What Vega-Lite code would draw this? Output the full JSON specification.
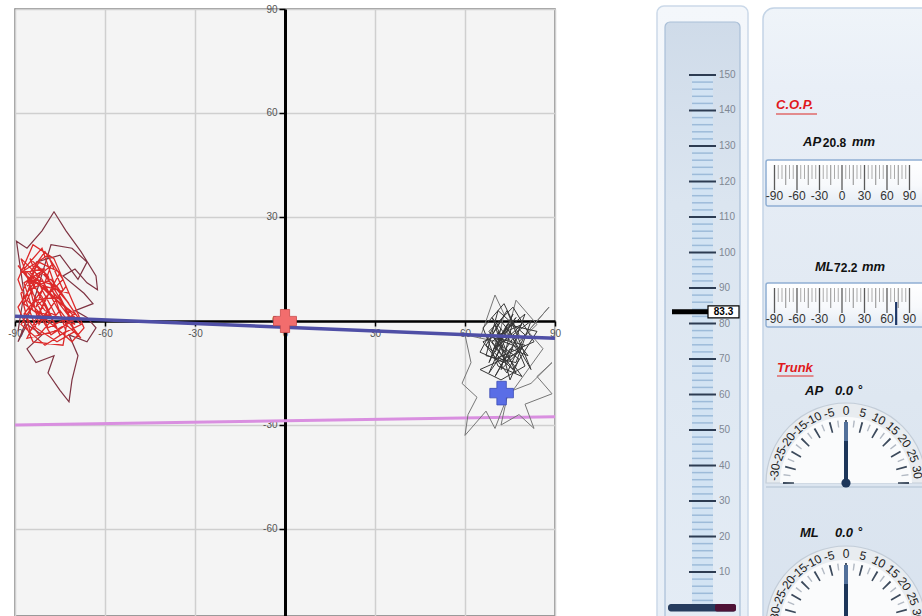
{
"$schema": "https://vega.github.io/schema/vega-lite/v6.json",
"autosize": {"type": "none"},
"padding": {"left": 15, "top": 9, "right": 907, "bottom": 0},
"background": "#ffffff",
"spacing": 15,
"bounds": "flush",
"config": {
  "view": {"stroke": null},
  "font": "Liberation Sans",
  "locale": {"number": {"decimal": ".", "thousands": ",", "grouping": [3], "currency": ["$", ""], "minus": "-"}}
},
"datasets": {
  "pink_line": [{"x": -90, "y": -30.0}, {"x": 90, "y": -27.6}],
  "blue_line": [{"x": -90, "y": 1.4}, {"x": 90, "y": -5.0}],
  "start_point": [{"x": 0, "y": 0}],
  "cop_point": [{"x": 72.2, "y": -20.8}],
  "red_outer": [{"x":-89,"y":-3},{"x":-87,"y":8},{"x":-89.5,"y":23},{"x":-86,"y":21},{"x":-81,"y":26},{"x":-77,"y":31.5},{"x":-73,"y":26},{"x":-68,"y":20},{"x":-63,"y":13},{"x":-62.5,"y":9},{"x":-66,"y":11},{"x":-70,"y":15},{"x":-74,"y":13},{"x":-67,"y":8},{"x":-64,"y":5},{"x":-70,"y":3},{"x":-66,"y":1},{"x":-63,"y":-2},{"x":-66,"y":-6},{"x":-72,"y":-4},{"x":-69,"y":-10},{"x":-71,"y":-17},{"x":-72,"y":-23.3},{"x":-75,"y":-20},{"x":-79,"y":-15},{"x":-77,"y":-10},{"x":-83,"y":-12},{"x":-86,"y":-8},{"x":-81,"y":-4},{"x":-86,"y":-1},{"x":-89,"y":-6},{"x":-84,"y":5},{"x":-78,"y":22},{"x":-71,"y":21},{"x":-66,"y":17},{"x":-69,"y":12},{"x":-75,"y":19},{"x":-83,"y":17}],
  "red_inner": [{"x":-86,"y":10},{"x":-78,"y":16},{"x":-83,"y":4},{"x":-74,"y":12},{"x":-80,"y":20},{"x":-85,"y":14},{"x":-76,"y":6},{"x":-70,"y":2},{"x":-79,"y":-2},{"x":-84,"y":8},{"x":-88,"y":18},{"x":-81,"y":12},{"x":-73,"y":-1},{"x":-68,"y":-5},{"x":-75,"y":3},{"x":-82,"y":-4},{"x":-87,"y":2},{"x":-80,"y":10},{"x":-72,"y":8},{"x":-77,"y":18},{"x":-84,"y":22},{"x":-89,"y":12},{"x":-83,"y":-2},{"x":-76,"y":-6},{"x":-70,"y":-3},{"x":-74,"y":5},{"x":-81,"y":15},{"x":-86,"y":6},{"x":-79,"y":0},{"x":-71,"y":-6},{"x":-67,"y":-2},{"x":-73,"y":10},{"x":-78,"y":4},{"x":-85,"y":-3},{"x":-88,"y":8},{"x":-82,"y":17},{"x":-75,"y":14},{"x":-80,"y":6},{"x":-86,"y":-5},{"x":-77,"y":-3},{"x":-69,"y":1},{"x":-76,"y":10},{"x":-83,"y":12},{"x":-89,"y":4},{"x":-84,"y":-6},{"x":-74,"y":-7},{"x":-72,"y":3},{"x":-79,"y":8},{"x":-87,"y":15},{"x":-81,"y":21},{"x":-77,"y":11},{"x":-82,"y":2},{"x":-78,"y":-4},{"x":-71,"y":0},{"x":-75,"y":7},{"x":-83,"y":6},{"x":-88,"y":-1},{"x":-80,"y":-7},{"x":-73,"y":-3},{"x":-79,"y":13},{"x":-85,"y":18},{"x":-81,"y":9},{"x":-76,"y":1},{"x":-84,"y":3},{"x":-87,"y":11},{"x":-80,"y":15},{"x":-88,"y":14},{"x":-79,"y":19},{"x":-74,"y":9},{"x":-82,"y":-1},{"x":-86,"y":13},{"x":-77,"y":7},{"x":-70,"y":-1},{"x":-80,"y":3},{"x":-85,"y":9},{"x":-78,"y":12},{"x":-72,"y":5},{"x":-83,"y":16},{"x":-87,"y":5},{"x":-76,"y":-2},{"x":-81,"y":7},{"x":-89,"y":16},{"x":-84,"y":11},{"x":-75,"y":-4},{"x":-68,"y":-1},{"x":-78,"y":9}],
  "black_dark": [{"x":72,"y":-2},{"x":68,"y":-12},{"x":76,"y":2},{"x":70,"y":-8},{"x":79,"y":-1},{"x":66,"y":-6},{"x":74,"y":-15},{"x":80,"y":-4},{"x":71,"y":3},{"x":67,"y":-10},{"x":77,"y":-12},{"x":82,"y":0},{"x":73,"y":-6},{"x":69,"y":1},{"x":78,"y":-9},{"x":65,"y":-14},{"x":72,"y":-17},{"x":80,"y":-13},{"x":75,"y":-3},{"x":70,"y":-11},{"x":83,"y":-6},{"x":76,"y":4},{"x":68,"y":-3},{"x":74,"y":-10},{"x":79,"y":-16},{"x":71,"y":-13},{"x":66,"y":-2},{"x":73,"y":5},{"x":78,"y":-4},{"x":70,"y":-16},{"x":75,"y":-8},{"x":81,"y":-10},{"x":72,"y":0},{"x":67,"y":-7},{"x":76,"y":-14},{"x":84,"y":-3},{"x":74,"y":-1},{"x":69,"y":-9},{"x":77,"y":1},{"x":71,"y":-5},{"x":80,"y":-7},{"x":73,"y":-12},{"x":65,"y":-9},{"x":70,"y":-1},{"x":75,"y":-17},{"x":78,"y":-11},{"x":72,"y":-7},{"x":68,"y":-15},{"x":76,"y":-5},{"x":82,"y":-14},{"x":74,"y":3},{"x":69,"y":-4},{"x":73,"y":-9},{"x":71,"y":-3},{"x":77,"y":-15},{"x":69,"y":-6},{"x":80,"y":2},{"x":74,"y":-12},{"x":67,"y":-4},{"x":79,"y":-8},{"x":72,"y":-14},{"x":76,"y":0},{"x":70,"y":-9}],
  "black_gray": [{"x":65,"y":-5},{"x":70,"y":7.5},{"x":73,"y":2},{"x":71,"y":-6},{"x":60,"y":-4},{"x":62,"y":-12},{"x":59,"y":-18},{"x":64,"y":-22},{"x":61,"y":-27},{"x":60,"y":-33},{"x":67,"y":-26},{"x":70,"y":-31},{"x":74,"y":-22},{"x":72,"y":-30},{"x":78,"y":-27},{"x":83,"y":-31},{"x":80,"y":-24},{"x":89,"y":-21},{"x":84,"y":-16},{"x":89,"y":-12},{"x":82,"y":-18},{"x":76,"y":-20},{"x":86,"y":-8},{"x":81,"y":-3},{"x":88,"y":4},{"x":78,"y":-6},{"x":84,"y":-1},{"x":77,"y":6},{"x":74,"y":-4}],
  "hscale": [{"v":2},{"v":4},{"v":6},{"v":8},{"v":10},{"v":12},{"v":14},{"v":16},{"v":18},{"v":20},{"v":22},{"v":24},{"v":26},{"v":28},{"v":30},{"v":32},{"v":34},{"v":36},{"v":38},{"v":40},{"v":42},{"v":44},{"v":46},{"v":48},{"v":50},{"v":52},{"v":54},{"v":56},{"v":58},{"v":60},{"v":62},{"v":64},{"v":66},{"v":68},{"v":70},{"v":72},{"v":74},{"v":76},{"v":78},{"v":80},{"v":82},{"v":84},{"v":86},{"v":88},{"v":90},{"v":92},{"v":94},{"v":96},{"v":98},{"v":100},{"v":102},{"v":104},{"v":106},{"v":108},{"v":110},{"v":112},{"v":114},{"v":116},{"v":118},{"v":120},{"v":122},{"v":124},{"v":126},{"v":128},{"v":130},{"v":132},{"v":134},{"v":136},{"v":138},{"v":140},{"v":142},{"v":144},{"v":146},{"v":148},{"v":150}],
  "weight": [{"v": 83.3}],
  "cop": [{"AP": 20.8, "ML": 72.2}],
  "trunk": [{"AP": 0.0, "ML": 0.0}],
  "ruler": [{"v":-90},{"v":-85},{"v":-80},{"v":-75},{"v":-70},{"v":-65},{"v":-60},{"v":-55},{"v":-50},{"v":-45},{"v":-40},{"v":-35},{"v":-30},{"v":-25},{"v":-20},{"v":-15},{"v":-10},{"v":-5},{"v":0},{"v":5},{"v":10},{"v":15},{"v":20},{"v":25},{"v":30},{"v":35},{"v":40},{"v":45},{"v":50},{"v":55},{"v":60},{"v":65},{"v":70},{"v":75},{"v":80},{"v":85},{"v":90}],
  "gauge": [{"v":-30},{"v":-27.5},{"v":-25},{"v":-22.5},{"v":-20},{"v":-17.5},{"v":-15},{"v":-12.5},{"v":-10},{"v":-7.5},{"v":-5},{"v":-2.5},{"v":0},{"v":2.5},{"v":5},{"v":7.5},{"v":10},{"v":12.5},{"v":15},{"v":17.5},{"v":20},{"v":22.5},{"v":25},{"v":27.5},{"v":30}]
},
"hconcat": [
{
  "width": 540, "height": 607,
  "view": {"fill": "#f4f4f4", "stroke": "#7c7c7c", "strokeWidth": 1.5},
  "encoding": {
    "x": {"field": "x", "type": "quantitative", "scale": {"domain": [-90, 90], "nice": false, "zero": false},
      "axis": {"orient": "bottom", "offset": -295, "values": [-90,-60,-30,0,30,60,90], "title": null, "grid": true, "gridColor": "#cfcfcf", "gridWidth": 1.5, "domainColor": "#000000", "domainWidth": 2.5, "tickColor": "#000000", "tickWidth": 1.5, "tickSize": 5, "labelColor": "#555555", "labelFontSize": 10, "labelPadding": 2, "labelFlush": false, "labelOverlap": false, "labelBound": false}},
    "y": {"field": "y", "type": "quantitative", "scale": {"domain": [-85.1, 90], "nice": false, "zero": false},
      "axis": {"orient": "left", "offset": -270, "values": [-60,-30,0,30,60,90], "title": null, "grid": true, "gridColor": "#cfcfcf", "gridWidth": 1.5, "domainColor": "#000000", "domainWidth": 3, "tickColor": "#000000", "tickWidth": 1.5, "tickSize": 6, "labelColor": "#555555", "labelFontSize": 10, "labelPadding": 2, "labelFlush": false, "labelOverlap": false, "labelBound": false}}
  },
  "layer": [
    {"data": {"name": "pink_line"}, "mark": {"type": "line", "color": "#d98fe0", "strokeWidth": 3}, "encoding": {"order": {"value": null}}},
    {"data": {"name": "black_gray"}, "mark": {"type": "line", "color": "#767676", "strokeWidth": 1}, "encoding": {"order": {"value": null}}},
    {"data": {"name": "black_dark"}, "mark": {"type": "line", "color": "#363636", "strokeWidth": 1}, "encoding": {"order": {"value": null}}},
    {"data": {"name": "red_outer"}, "mark": {"type": "line", "color": "#7e3342", "strokeWidth": 1.2}, "encoding": {"order": {"value": null}}},
    {"data": {"name": "red_inner"}, "mark": {"type": "line", "color": "#dc2a2a", "strokeWidth": 1.3}, "encoding": {"order": {"value": null}}},
    {"data": {"name": "blue_line"}, "mark": {"type": "line", "color": "#4f4fa6", "strokeWidth": 3.5}, "encoding": {"order": {"value": null}}},
    {"data": {"name": "start_point"}, "mark": {"type": "point", "shape": "cross", "size": 530, "filled": true, "color": "#f26d6d", "fill": "#f26d6d", "stroke": "#c94a4a", "strokeWidth": 0.8, "opacity": 1}},
    {"data": {"name": "cop_point"}, "mark": {"type": "point", "shape": "cross", "size": 560, "filled": true, "color": "#5a6ee6", "fill": "#5a6ee6", "stroke": "#3c4cb5", "strokeWidth": 0.8, "opacity": 1}}
  ]
},
{
  "width": 178, "height": 607,
  "layer": [
    {"data": {"values": [{}]}, "mark": {"type": "rect", "fill": {"gradient": "linear", "x1": 0, "y1": 0, "x2": 0, "y2": 1, "stops": [{"offset": 0, "color": "#f4f7fb"}, {"offset": 1, "color": "#e8eff7"}]}, "stroke": "#cbd9e9", "strokeWidth": 1.5, "cornerRadius": 7},
     "encoding": {"x": {"datum": 0, "type": "quantitative", "scale": {"domain": [-87, 91], "nice": false, "zero": false}, "axis": null}, "x2": {"datum": 91},
                  "y": {"datum": -6, "type": "quantitative", "scale": {"domain": [-2.39, 168.59], "nice": false, "zero": false}, "axis": null}, "y2": {"datum": 169.44}}},
    {"data": {"values": [{}]}, "mark": {"type": "rect", "fill": {"gradient": "linear", "x1": 0, "y1": 0, "x2": 0, "y2": 1, "stops": [{"offset": 0, "color": "#cfdbe9"}, {"offset": 0.3, "color": "#dbe5f0"}, {"offset": 1, "color": "#e4ecf5"}]}, "stroke": "#a9bfd7", "strokeWidth": 1.2, "cornerRadius": 5},
     "encoding": {"x": {"datum": 8, "type": "quantitative", "scale": {"domain": [-87, 91], "nice": false, "zero": false}, "axis": null}, "x2": {"datum": 83},
                  "y": {"datum": -6, "type": "quantitative", "scale": {"domain": [-2.39, 168.59], "nice": false, "zero": false}, "axis": null}, "y2": {"datum": 164.93}}},
    {"data": {"values": [{}]}, "mark": {"type": "rect", "fill": "#d2e3f3"},
     "encoding": {"x": {"datum": 35, "type": "quantitative", "scale": {"domain": [-87, 91], "nice": false, "zero": false}, "axis": null}, "x2": {"datum": 56},
                  "y": {"datum": 0.5, "type": "quantitative", "scale": {"domain": [-2.39, 168.59], "nice": false, "zero": false}, "axis": null}, "y2": {"datum": 150}}},
    {"data": {"name": "hscale"}, "transform": [{"filter": "datum.v % 10 != 0"}], "mark": {"type": "rule", "color": "#9dbbd9", "strokeWidth": 1.5},
     "encoding": {"x": {"datum": 35, "type": "quantitative", "scale": {"domain": [-87, 91], "nice": false, "zero": false}, "axis": null}, "x2": {"datum": 56},
                  "y": {"field": "v", "type": "quantitative", "scale": {"domain": [-2.39, 168.59], "nice": false, "zero": false}, "axis": null}}},
    {"data": {"name": "hscale"}, "transform": [{"filter": "datum.v % 10 == 0"}], "mark": {"type": "rule", "color": "#2d3c52", "strokeWidth": 2},
     "encoding": {"x": {"datum": 32, "type": "quantitative", "scale": {"domain": [-87, 91], "nice": false, "zero": false}, "axis": null}, "x2": {"datum": 59},
                  "y": {"field": "v", "type": "quantitative", "scale": {"domain": [-2.39, 168.59], "nice": false, "zero": false}, "axis": null}}},
    {"data": {"name": "hscale"}, "transform": [{"filter": "datum.v % 10 == 0"}], "mark": {"type": "text", "align": "left", "baseline": "middle", "fontSize": 10, "color": "#7f8793"},
     "encoding": {"x": {"datum": 62, "type": "quantitative", "scale": {"domain": [-87, 91], "nice": false, "zero": false}, "axis": null},
                  "y": {"field": "v", "type": "quantitative", "scale": {"domain": [-2.39, 168.59], "nice": false, "zero": false}, "axis": null},
                  "text": {"field": "v", "type": "quantitative"}}},
    {"data": {"values": [{}]}, "mark": {"type": "rect", "fill": "#263c5e", "cornerRadius": 3},
     "encoding": {"x": {"datum": 11, "type": "quantitative", "scale": {"domain": [-87, 91], "nice": false, "zero": false}, "axis": null}, "x2": {"datum": 79},
                  "y": {"datum": -1.1, "type": "quantitative", "scale": {"domain": [-2.39, 168.59], "nice": false, "zero": false}, "axis": null}, "y2": {"datum": 1.0}}},
    {"data": {"values": [{}]}, "mark": {"type": "rect", "fill": "#4e1236", "cornerRadius": 2},
     "encoding": {"x": {"datum": 58, "type": "quantitative", "scale": {"domain": [-87, 91], "nice": false, "zero": false}, "axis": null}, "x2": {"datum": 79},
                  "y": {"datum": -1.1, "type": "quantitative", "scale": {"domain": [-2.39, 168.59], "nice": false, "zero": false}, "axis": null}, "y2": {"datum": 1.0}}},
    {"data": {"name": "weight"}, "mark": {"type": "rule", "color": "#000000", "strokeWidth": 5},
     "encoding": {"x": {"datum": 15, "type": "quantitative", "scale": {"domain": [-87, 91], "nice": false, "zero": false}, "axis": null}, "x2": {"datum": 51},
                  "y": {"field": "v", "type": "quantitative", "scale": {"domain": [-2.39, 168.59], "nice": false, "zero": false}, "axis": null}}},
    {"data": {"name": "weight"}, "mark": {"type": "rect", "fill": "#ffffff", "stroke": "#000000", "strokeWidth": 1.2, "yOffset": 6, "y2Offset": -6},
     "encoding": {"x": {"datum": 51, "type": "quantitative", "scale": {"domain": [-87, 91], "nice": false, "zero": false}, "axis": null}, "x2": {"datum": 82},
                  "y": {"field": "v", "type": "quantitative", "scale": {"domain": [-2.39, 168.59], "nice": false, "zero": false}, "axis": null}, "y2": {"field": "v"}}},
    {"data": {"name": "weight"}, "mark": {"type": "text", "align": "center", "baseline": "middle", "fontSize": 10, "fontWeight": "bold", "color": "#000000"},
     "encoding": {"x": {"datum": 66.5, "type": "quantitative", "scale": {"domain": [-87, 91], "nice": false, "zero": false}, "axis": null},
                  "y": {"field": "v", "type": "quantitative", "scale": {"domain": [-2.39, 168.59], "nice": false, "zero": false}, "axis": null},
                  "text": {"field": "v", "type": "quantitative", "format": ".1f"}}}
  ]
},
{
  "width": 159, "height": 607,
  "resolve": {"scale": {"theta": "independent"}},
  "layer": [
    {"data": {"values": [{}]}, "mark": {"type": "rect", "fill": {"gradient": "linear", "x1": 0, "y1": 0, "x2": 0, "y2": 1, "stops": [{"offset": 0, "color": "#eff4f9"}, {"offset": 0.12, "color": "#e9eff7"}, {"offset": 0.6, "color": "#dee7f1"}, {"offset": 1, "color": "#d8e2ee"}]}, "stroke": "#c4d4e6", "strokeWidth": 1.5, "cornerRadius": 11},
     "encoding": {"x": {"datum": -105.33, "type": "quantitative", "scale": {"domain": [-105.33, 106.67], "nice": false, "zero": false}, "axis": null}, "x2": {"datum": 130},
                  "y": {"datum": -1, "type": "quantitative", "scale": {"domain": [0, 607], "reverse": true, "nice": false, "zero": false}, "axis": null}, "y2": {"datum": 650}}},
    {"data": {"values": [{}]}, "mark": {"type": "text", "text": "C.O.P.", "align": "left", "baseline": "middle", "fontSize": 13, "fontWeight": "bold", "fontStyle": "italic", "color": "#e0191c"},
     "encoding": {"x": {"datum": -88, "type": "quantitative", "scale": {"domain": [-105.33, 106.67], "nice": false, "zero": false}, "axis": null},
                  "y": {"datum": 96, "type": "quantitative", "scale": {"domain": [0, 607], "reverse": true, "nice": false, "zero": false}, "axis": null}}},
    {"data": {"values": [{}]}, "mark": {"type": "rule", "color": "#e06a6a", "strokeWidth": 1.5},
     "encoding": {"x": {"datum": -88, "type": "quantitative", "scale": {"domain": [-105.33, 106.67], "nice": false, "zero": false}, "axis": null}, "x2": {"datum": -33.3},
                  "y": {"datum": 105, "type": "quantitative", "scale": {"domain": [0, 607], "reverse": true, "nice": false, "zero": false}, "axis": null}}},
    {"data": {"values": [{}]}, "mark": {"type": "text", "text": "AP", "align": "left", "baseline": "middle", "fontSize": 13, "fontWeight": "bold", "fontStyle": "italic", "color": "#111111"},
     "encoding": {"x": {"datum": -52, "type": "quantitative", "scale": {"domain": [-105.33, 106.67], "nice": false, "zero": false}, "axis": null},
                  "y": {"datum": 133, "type": "quantitative", "scale": {"domain": [0, 607], "reverse": true, "nice": false, "zero": false}, "axis": null}}},
    {"data": {"name": "cop"}, "mark": {"type": "text", "align": "left", "baseline": "middle", "fontSize": 12, "fontWeight": "bold", "color": "#111111"},
     "encoding": {"x": {"datum": -25.5, "type": "quantitative", "scale": {"domain": [-105.33, 106.67], "nice": false, "zero": false}, "axis": null},
                  "y": {"datum": 134, "type": "quantitative", "scale": {"domain": [0, 607], "reverse": true, "nice": false, "zero": false}, "axis": null},
                  "text": {"field": "AP", "type": "quantitative", "format": ".1f"}}},
    {"data": {"values": [{}]}, "mark": {"type": "text", "text": "mm", "align": "left", "baseline": "middle", "fontSize": 13, "fontWeight": "bold", "fontStyle": "italic", "color": "#111111"},
     "encoding": {"x": {"datum": 13.3, "type": "quantitative", "scale": {"domain": [-105.33, 106.67], "nice": false, "zero": false}, "axis": null},
                  "y": {"datum": 133, "type": "quantitative", "scale": {"domain": [0, 607], "reverse": true, "nice": false, "zero": false}, "axis": null}}},
    {"data": {"values": [{}]}, "mark": {"type": "rect", "fill": {"gradient": "linear", "x1": 0, "y1": 0, "x2": 0, "y2": 1, "stops": [{"offset": 0, "color": "#ffffff"}, {"offset": 0.55, "color": "#f7f9fc"}, {"offset": 1, "color": "#e3ebf4"}]}, "stroke": "#90afd3", "strokeWidth": 1.5, "cornerRadius": 2},
     "encoding": {"x": {"datum": -101.3, "type": "quantitative", "scale": {"domain": [-105.33, 106.67], "nice": false, "zero": false}, "axis": null}, "x2": {"datum": 130},
                  "y": {"datum": 151, "type": "quantitative", "scale": {"domain": [0, 607], "reverse": true, "nice": false, "zero": false}, "axis": null}, "y2": {"datum": 197}}},
    {"data": {"name": "ruler"}, "transform": [{"filter": "datum.v % 30 == 0"}], "mark": {"type": "rule", "color": "#5a5a5a", "strokeWidth": 1.3},
     "encoding": {"x": {"field": "v", "type": "quantitative", "scale": {"domain": [-105.33, 106.67], "nice": false, "zero": false}, "axis": null},
                  "y": {"datum": 156, "type": "quantitative", "scale": {"domain": [0, 607], "reverse": true, "nice": false, "zero": false}, "axis": null}, "y2": {"datum": 181}}},
    {"data": {"name": "ruler"}, "transform": [{"filter": "datum.v % 15 == 0 && datum.v % 30 != 0"}], "mark": {"type": "rule", "color": "#8c8c8c", "strokeWidth": 1},
     "encoding": {"x": {"field": "v", "type": "quantitative", "scale": {"domain": [-105.33, 106.67], "nice": false, "zero": false}, "axis": null},
                  "y": {"datum": 156, "type": "quantitative", "scale": {"domain": [0, 607], "reverse": true, "nice": false, "zero": false}, "axis": null}, "y2": {"datum": 176}}},
    {"data": {"name": "ruler"}, "transform": [{"filter": "datum.v % 15 != 0"}], "mark": {"type": "rule", "color": "#ababab", "strokeWidth": 1},
     "encoding": {"x": {"field": "v", "type": "quantitative", "scale": {"domain": [-105.33, 106.67], "nice": false, "zero": false}, "axis": null},
                  "y": {"datum": 156, "type": "quantitative", "scale": {"domain": [0, 607], "reverse": true, "nice": false, "zero": false}, "axis": null}, "y2": {"datum": 170}}},
    {"data": {"name": "ruler"}, "transform": [{"filter": "datum.v % 30 == 0"}], "mark": {"type": "text", "align": "center", "baseline": "middle", "fontSize": 12, "color": "#333333"},
     "encoding": {"x": {"field": "v", "type": "quantitative", "scale": {"domain": [-105.33, 106.67], "nice": false, "zero": false}, "axis": null},
                  "y": {"datum": 187, "type": "quantitative", "scale": {"domain": [0, 607], "reverse": true, "nice": false, "zero": false}, "axis": null},
                  "text": {"field": "v", "type": "quantitative", "format": "d"}}},
    {"data": {"values": [{}]}, "mark": {"type": "text", "text": "ML", "align": "left", "baseline": "middle", "fontSize": 13, "fontWeight": "bold", "fontStyle": "italic", "color": "#111111"},
     "encoding": {"x": {"datum": -36, "type": "quantitative", "scale": {"domain": [-105.33, 106.67], "nice": false, "zero": false}, "axis": null},
                  "y": {"datum": 258, "type": "quantitative", "scale": {"domain": [0, 607], "reverse": true, "nice": false, "zero": false}, "axis": null}}},
    {"data": {"name": "cop"}, "mark": {"type": "text", "align": "left", "baseline": "middle", "fontSize": 12, "fontWeight": "bold", "color": "#111111"},
     "encoding": {"x": {"datum": -10.5, "type": "quantitative", "scale": {"domain": [-105.33, 106.67], "nice": false, "zero": false}, "axis": null},
                  "y": {"datum": 259, "type": "quantitative", "scale": {"domain": [0, 607], "reverse": true, "nice": false, "zero": false}, "axis": null},
                  "text": {"field": "ML", "type": "quantitative", "format": ".1f"}}},
    {"data": {"values": [{}]}, "mark": {"type": "text", "text": "mm", "align": "left", "baseline": "middle", "fontSize": 13, "fontWeight": "bold", "fontStyle": "italic", "color": "#111111"},
     "encoding": {"x": {"datum": 26.7, "type": "quantitative", "scale": {"domain": [-105.33, 106.67], "nice": false, "zero": false}, "axis": null},
                  "y": {"datum": 258, "type": "quantitative", "scale": {"domain": [0, 607], "reverse": true, "nice": false, "zero": false}, "axis": null}}},
    {"data": {"values": [{}]}, "mark": {"type": "rect", "fill": {"gradient": "linear", "x1": 0, "y1": 0, "x2": 0, "y2": 1, "stops": [{"offset": 0, "color": "#ffffff"}, {"offset": 0.55, "color": "#f7f9fc"}, {"offset": 1, "color": "#e3ebf4"}]}, "stroke": "#90afd3", "strokeWidth": 1.5, "cornerRadius": 2},
     "encoding": {"x": {"datum": -101.3, "type": "quantitative", "scale": {"domain": [-105.33, 106.67], "nice": false, "zero": false}, "axis": null}, "x2": {"datum": 130},
                  "y": {"datum": 274, "type": "quantitative", "scale": {"domain": [0, 607], "reverse": true, "nice": false, "zero": false}, "axis": null}, "y2": {"datum": 318}}},
    {"data": {"name": "ruler"}, "transform": [{"filter": "datum.v % 30 == 0"}], "mark": {"type": "rule", "color": "#5a5a5a", "strokeWidth": 1.3},
     "encoding": {"x": {"field": "v", "type": "quantitative", "scale": {"domain": [-105.33, 106.67], "nice": false, "zero": false}, "axis": null},
                  "y": {"datum": 279, "type": "quantitative", "scale": {"domain": [0, 607], "reverse": true, "nice": false, "zero": false}, "axis": null}, "y2": {"datum": 304}}},
    {"data": {"name": "ruler"}, "transform": [{"filter": "datum.v % 15 == 0 && datum.v % 30 != 0"}], "mark": {"type": "rule", "color": "#8c8c8c", "strokeWidth": 1},
     "encoding": {"x": {"field": "v", "type": "quantitative", "scale": {"domain": [-105.33, 106.67], "nice": false, "zero": false}, "axis": null},
                  "y": {"datum": 279, "type": "quantitative", "scale": {"domain": [0, 607], "reverse": true, "nice": false, "zero": false}, "axis": null}, "y2": {"datum": 299}}},
    {"data": {"name": "ruler"}, "transform": [{"filter": "datum.v % 15 != 0"}], "mark": {"type": "rule", "color": "#ababab", "strokeWidth": 1},
     "encoding": {"x": {"field": "v", "type": "quantitative", "scale": {"domain": [-105.33, 106.67], "nice": false, "zero": false}, "axis": null},
                  "y": {"datum": 279, "type": "quantitative", "scale": {"domain": [0, 607], "reverse": true, "nice": false, "zero": false}, "axis": null}, "y2": {"datum": 293}}},
    {"data": {"name": "ruler"}, "transform": [{"filter": "datum.v % 30 == 0"}], "mark": {"type": "text", "align": "center", "baseline": "middle", "fontSize": 12, "color": "#333333"},
     "encoding": {"x": {"field": "v", "type": "quantitative", "scale": {"domain": [-105.33, 106.67], "nice": false, "zero": false}, "axis": null},
                  "y": {"datum": 310, "type": "quantitative", "scale": {"domain": [0, 607], "reverse": true, "nice": false, "zero": false}, "axis": null},
                  "text": {"field": "v", "type": "quantitative", "format": "d"}}},
    {"data": {"name": "cop"}, "mark": {"type": "rule", "color": "#1d3768", "strokeWidth": 2.2},
     "encoding": {"x": {"field": "ML", "type": "quantitative", "scale": {"domain": [-105.33, 106.67], "nice": false, "zero": false}, "axis": null},
                  "y": {"datum": 293, "type": "quantitative", "scale": {"domain": [0, 607], "reverse": true, "nice": false, "zero": false}, "axis": null}, "y2": {"datum": 316}}},
    {"data": {"values": [{}]}, "mark": {"type": "text", "text": "Trunk", "align": "left", "baseline": "middle", "fontSize": 13, "fontWeight": "bold", "fontStyle": "italic", "color": "#e0191c"},
     "encoding": {"x": {"datum": -86.7, "type": "quantitative", "scale": {"domain": [-105.33, 106.67], "nice": false, "zero": false}, "axis": null},
                  "y": {"datum": 359, "type": "quantitative", "scale": {"domain": [0, 607], "reverse": true, "nice": false, "zero": false}, "axis": null}}},
    {"data": {"values": [{}]}, "mark": {"type": "rule", "color": "#e06a6a", "strokeWidth": 1.5},
     "encoding": {"x": {"datum": -86.7, "type": "quantitative", "scale": {"domain": [-105.33, 106.67], "nice": false, "zero": false}, "axis": null}, "x2": {"datum": -38},
                  "y": {"datum": 367, "type": "quantitative", "scale": {"domain": [0, 607], "reverse": true, "nice": false, "zero": false}, "axis": null}}},
    {"data": {"values": [{}]}, "mark": {"type": "text", "text": "AP", "align": "left", "baseline": "middle", "fontSize": 13, "fontWeight": "bold", "fontStyle": "italic", "color": "#111111"},
     "encoding": {"x": {"datum": -49.3, "type": "quantitative", "scale": {"domain": [-105.33, 106.67], "nice": false, "zero": false}, "axis": null},
                  "y": {"datum": 382, "type": "quantitative", "scale": {"domain": [0, 607], "reverse": true, "nice": false, "zero": false}, "axis": null}}},
    {"data": {"name": "trunk"}, "mark": {"type": "text", "align": "left", "baseline": "middle", "fontSize": 13, "fontWeight": "bold", "fontStyle": "italic", "color": "#111111"},
     "encoding": {"x": {"datum": -9.3, "type": "quantitative", "scale": {"domain": [-105.33, 106.67], "nice": false, "zero": false}, "axis": null},
                  "y": {"datum": 382, "type": "quantitative", "scale": {"domain": [0, 607], "reverse": true, "nice": false, "zero": false}, "axis": null},
                  "text": {"field": "AP", "type": "quantitative", "format": ".1f"}}},
    {"data": {"values": [{}]}, "mark": {"type": "text", "text": "°", "align": "left", "baseline": "middle", "fontSize": 12, "fontWeight": "bold", "color": "#111111"},
     "encoding": {"x": {"datum": 21.3, "type": "quantitative", "scale": {"domain": [-105.33, 106.67], "nice": false, "zero": false}, "axis": null},
                  "y": {"datum": 381, "type": "quantitative", "scale": {"domain": [0, 607], "reverse": true, "nice": false, "zero": false}, "axis": null}}},
    {"data": {"values": [{}]}, "mark": {"type": "rule", "color": "#bfcddd", "strokeWidth": 1.5},
     "encoding": {"x": {"datum": -101.3, "type": "quantitative", "scale": {"domain": [-105.33, 106.67], "nice": false, "zero": false}, "axis": null}, "x2": {"datum": 130},
                  "y": {"datum": 478, "type": "quantitative", "scale": {"domain": [0, 607], "reverse": true, "nice": false, "zero": false}, "axis": null}}},
    {"data": {"values": [{}]}, "mark": {"type": "arc", "theta": -1.5708, "theta2": 1.5708, "radius": 80, "radius2": 0, "fill": "#e8ecf0", "stroke": "#c3cdd8", "strokeWidth": 1.2},
     "encoding": {"x": {"datum": 5.33, "type": "quantitative", "scale": {"domain": [-105.33, 106.67], "nice": false, "zero": false}, "axis": null},
                  "y": {"datum": 474, "type": "quantitative", "scale": {"domain": [0, 607], "reverse": true, "nice": false, "zero": false}, "axis": null}}},
    {"data": {"values": [{}]}, "mark": {"type": "arc", "theta": -1.5708, "theta2": 1.5708, "radius": 66, "radius2": 0, "fill": "#fafbfc"},
     "encoding": {"x": {"datum": 5.33, "type": "quantitative", "scale": {"domain": [-105.33, 106.67], "nice": false, "zero": false}, "axis": null},
                  "y": {"datum": 474, "type": "quantitative", "scale": {"domain": [0, 607], "reverse": true, "nice": false, "zero": false}, "axis": null}}},
    {"data": {"name": "gauge"}, "transform": [{"filter": "datum.v % 5 != 0"}], "mark": {"type": "arc", "radius": 63, "radius2": 56, "thetaOffset": -0.012, "theta2Offset": 0.012, "color": "#b3bac4"},
     "encoding": {"x": {"datum": 5.33, "type": "quantitative", "scale": {"domain": [-105.33, 106.67], "nice": false, "zero": false}, "axis": null},
                  "y": {"datum": 474, "type": "quantitative", "scale": {"domain": [0, 607], "reverse": true, "nice": false, "zero": false}, "axis": null},
                  "theta": {"field": "v", "type": "quantitative", "scale": {"domain": [-30, 30], "range": [-1.5708, 1.5708]}, "stack": null}, "theta2": {"field": "v"}}},
    {"data": {"name": "gauge"}, "transform": [{"filter": "datum.v % 5 == 0"}], "mark": {"type": "arc", "radius": 63, "radius2": 52, "thetaOffset": -0.015, "theta2Offset": 0.015, "color": "#3c4a5c"},
     "encoding": {"x": {"datum": 5.33, "type": "quantitative", "scale": {"domain": [-105.33, 106.67], "nice": false, "zero": false}, "axis": null},
                  "y": {"datum": 474, "type": "quantitative", "scale": {"domain": [0, 607], "reverse": true, "nice": false, "zero": false}, "axis": null},
                  "theta": {"field": "v", "type": "quantitative", "scale": {"domain": [-30, 30], "range": [-1.5708, 1.5708]}, "stack": null}, "theta2": {"field": "v"}}},
    {"data": {"name": "gauge"}, "transform": [{"filter": "datum.v % 5 == 0"}], "mark": {"type": "text", "radius": 72, "fontSize": 12, "color": "#222222", "align": "center", "baseline": "middle"},
     "encoding": {"x": {"datum": 5.33, "type": "quantitative", "scale": {"domain": [-105.33, 106.67], "nice": false, "zero": false}, "axis": null},
                  "y": {"datum": 474, "type": "quantitative", "scale": {"domain": [0, 607], "reverse": true, "nice": false, "zero": false}, "axis": null},
                  "theta": {"field": "v", "type": "quantitative", "scale": {"domain": [-30, 30], "range": [-1.42, 1.42]}, "stack": null},
                  "angle": {"field": "v", "type": "quantitative", "scale": {"domain": [-30, 30], "range": [-81.4, 81.4]}},
                  "text": {"field": "v", "type": "quantitative", "format": "d"}}},
    {"data": {"values": [{}]}, "mark": {"type": "rule", "color": "#1d365a", "strokeWidth": 4},
     "encoding": {"x": {"datum": 5.33, "type": "quantitative", "scale": {"domain": [-105.33, 106.67], "nice": false, "zero": false}, "axis": null},
                  "y": {"datum": 474, "type": "quantitative", "scale": {"domain": [0, 607], "reverse": true, "nice": false, "zero": false}, "axis": null}, "y2": {"datum": 413}}},
    {"data": {"values": [{}]}, "mark": {"type": "rule", "color": "#52709a", "strokeWidth": 4},
     "encoding": {"x": {"datum": 5.33, "type": "quantitative", "scale": {"domain": [-105.33, 106.67], "nice": false, "zero": false}, "axis": null},
                  "y": {"datum": 432, "type": "quantitative", "scale": {"domain": [0, 607], "reverse": true, "nice": false, "zero": false}, "axis": null}, "y2": {"datum": 413}}},
    {"data": {"values": [{}]}, "mark": {"type": "point", "shape": "circle", "size": 85, "filled": true, "color": "#1d365a", "opacity": 1},
     "encoding": {"x": {"datum": 5.33, "type": "quantitative", "scale": {"domain": [-105.33, 106.67], "nice": false, "zero": false}, "axis": null},
                  "y": {"datum": 474, "type": "quantitative", "scale": {"domain": [0, 607], "reverse": true, "nice": false, "zero": false}, "axis": null}}},
    {"data": {"values": [{}]}, "mark": {"type": "text", "text": "ML", "align": "left", "baseline": "middle", "fontSize": 13, "fontWeight": "bold", "fontStyle": "italic", "color": "#111111"},
     "encoding": {"x": {"datum": -56, "type": "quantitative", "scale": {"domain": [-105.33, 106.67], "nice": false, "zero": false}, "axis": null},
                  "y": {"datum": 524, "type": "quantitative", "scale": {"domain": [0, 607], "reverse": true, "nice": false, "zero": false}, "axis": null}}},
    {"data": {"name": "trunk"}, "mark": {"type": "text", "align": "left", "baseline": "middle", "fontSize": 13, "fontWeight": "bold", "fontStyle": "italic", "color": "#111111"},
     "encoding": {"x": {"datum": -9.3, "type": "quantitative", "scale": {"domain": [-105.33, 106.67], "nice": false, "zero": false}, "axis": null},
                  "y": {"datum": 524, "type": "quantitative", "scale": {"domain": [0, 607], "reverse": true, "nice": false, "zero": false}, "axis": null},
                  "text": {"field": "ML", "type": "quantitative", "format": ".1f"}}},
    {"data": {"values": [{}]}, "mark": {"type": "text", "text": "°", "align": "left", "baseline": "middle", "fontSize": 12, "fontWeight": "bold", "color": "#111111"},
     "encoding": {"x": {"datum": 21.3, "type": "quantitative", "scale": {"domain": [-105.33, 106.67], "nice": false, "zero": false}, "axis": null},
                  "y": {"datum": 523, "type": "quantitative", "scale": {"domain": [0, 607], "reverse": true, "nice": false, "zero": false}, "axis": null}}},
    {"data": {"values": [{}]}, "mark": {"type": "arc", "theta": -1.5708, "theta2": 1.5708, "radius": 80, "radius2": 0, "fill": "#e8ecf0", "stroke": "#c3cdd8", "strokeWidth": 1.2},
     "encoding": {"x": {"datum": 5.33, "type": "quantitative", "scale": {"domain": [-105.33, 106.67], "nice": false, "zero": false}, "axis": null},
                  "y": {"datum": 617, "type": "quantitative", "scale": {"domain": [0, 607], "reverse": true, "nice": false, "zero": false}, "axis": null}}},
    {"data": {"values": [{}]}, "mark": {"type": "arc", "theta": -1.5708, "theta2": 1.5708, "radius": 66, "radius2": 0, "fill": "#fafbfc"},
     "encoding": {"x": {"datum": 5.33, "type": "quantitative", "scale": {"domain": [-105.33, 106.67], "nice": false, "zero": false}, "axis": null},
                  "y": {"datum": 617, "type": "quantitative", "scale": {"domain": [0, 607], "reverse": true, "nice": false, "zero": false}, "axis": null}}},
    {"data": {"name": "gauge"}, "transform": [{"filter": "datum.v % 5 != 0"}], "mark": {"type": "arc", "radius": 63, "radius2": 56, "thetaOffset": -0.012, "theta2Offset": 0.012, "color": "#b3bac4"},
     "encoding": {"x": {"datum": 5.33, "type": "quantitative", "scale": {"domain": [-105.33, 106.67], "nice": false, "zero": false}, "axis": null},
                  "y": {"datum": 617, "type": "quantitative", "scale": {"domain": [0, 607], "reverse": true, "nice": false, "zero": false}, "axis": null},
                  "theta": {"field": "v", "type": "quantitative", "scale": {"domain": [-30, 30], "range": [-1.5708, 1.5708]}, "stack": null}, "theta2": {"field": "v"}}},
    {"data": {"name": "gauge"}, "transform": [{"filter": "datum.v % 5 == 0"}], "mark": {"type": "arc", "radius": 63, "radius2": 52, "thetaOffset": -0.015, "theta2Offset": 0.015, "color": "#3c4a5c"},
     "encoding": {"x": {"datum": 5.33, "type": "quantitative", "scale": {"domain": [-105.33, 106.67], "nice": false, "zero": false}, "axis": null},
                  "y": {"datum": 617, "type": "quantitative", "scale": {"domain": [0, 607], "reverse": true, "nice": false, "zero": false}, "axis": null},
                  "theta": {"field": "v", "type": "quantitative", "scale": {"domain": [-30, 30], "range": [-1.5708, 1.5708]}, "stack": null}, "theta2": {"field": "v"}}},
    {"data": {"name": "gauge"}, "transform": [{"filter": "datum.v % 5 == 0"}], "mark": {"type": "text", "radius": 72, "fontSize": 12, "color": "#222222", "align": "center", "baseline": "middle"},
     "encoding": {"x": {"datum": 5.33, "type": "quantitative", "scale": {"domain": [-105.33, 106.67], "nice": false, "zero": false}, "axis": null},
                  "y": {"datum": 617, "type": "quantitative", "scale": {"domain": [0, 607], "reverse": true, "nice": false, "zero": false}, "axis": null},
                  "theta": {"field": "v", "type": "quantitative", "scale": {"domain": [-30, 30], "range": [-1.42, 1.42]}, "stack": null},
                  "angle": {"field": "v", "type": "quantitative", "scale": {"domain": [-30, 30], "range": [-81.4, 81.4]}},
                  "text": {"field": "v", "type": "quantitative", "format": "d"}}},
    {"data": {"values": [{}]}, "mark": {"type": "rule", "color": "#1d365a", "strokeWidth": 4},
     "encoding": {"x": {"datum": 5.33, "type": "quantitative", "scale": {"domain": [-105.33, 106.67], "nice": false, "zero": false}, "axis": null},
                  "y": {"datum": 617, "type": "quantitative", "scale": {"domain": [0, 607], "reverse": true, "nice": false, "zero": false}, "axis": null}, "y2": {"datum": 556}}},
    {"data": {"values": [{}]}, "mark": {"type": "rule", "color": "#52709a", "strokeWidth": 4},
     "encoding": {"x": {"datum": 5.33, "type": "quantitative", "scale": {"domain": [-105.33, 106.67], "nice": false, "zero": false}, "axis": null},
                  "y": {"datum": 575, "type": "quantitative", "scale": {"domain": [0, 607], "reverse": true, "nice": false, "zero": false}, "axis": null}, "y2": {"datum": 556}}}
  ]
}
]
}
